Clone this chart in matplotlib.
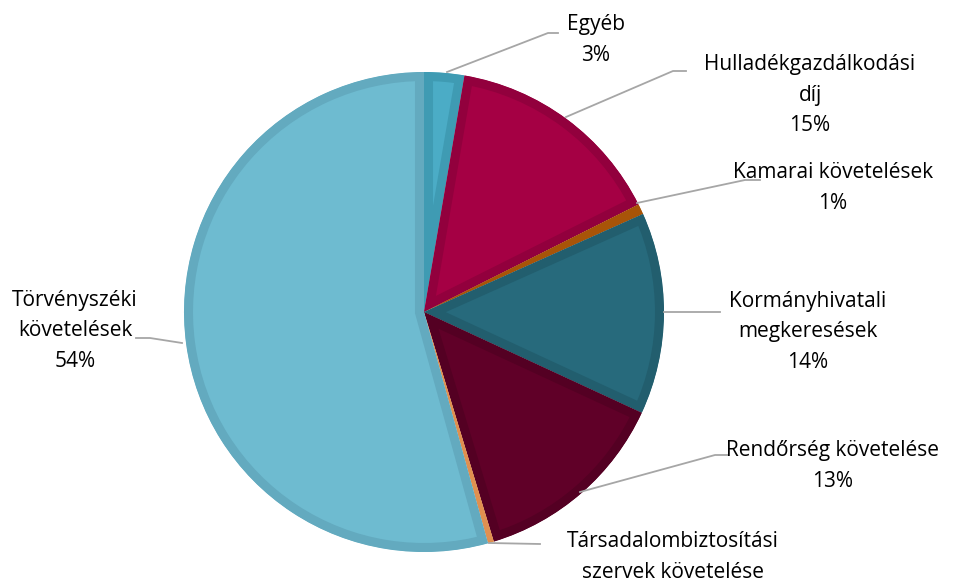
import matplotlib.pyplot as plt
from matplotlib.patches import Wedge

categories = ['Egyéb', 'Hulladékgazdálkodási\ndíj', 'Kamarai követelések',
              'Kormányhivatali\nmegkeresések', 'Rendőrség követelése',
              'Társadalombiztosítási\nszervek követelése', 'Törvényszéki\nkövetelések']
values = [2.7, 14.9, 0.7, 13.6, 13.4, 0.4, 54.3]
pct_labels = ['3%', '15%', '1%', '14%', '13%', '0%', '54%']
fill_colors = ['#4BACC6', '#A50044', '#C0600A', '#276A7C', '#600028', '#F0A060', '#6EBBD0']
edge_colors = ['#3F9BB3', '#92003D', '#A85408', '#225E6E', '#540023', '#E09050', '#63AABF']

H = 579
plt.rcParams['font.family'] = ['Open Sans', 'DejaVu Sans']
fig = plt.figure(figsize=(9.65, 5.79), dpi=100)
ax = fig.add_axes([0, 0, 1, 1])

cx, cy, r = 424, H - 312, 240
wedges, _ = ax.pie(values, startangle=90, counterclock=False,
                   center=(cx, cy), radius=r, colors=fill_colors, frame=True)
ax.set_xlim(0, 965)
ax.set_ylim(0, H)
ax.set_aspect('equal')
ax.axis('off')
for w, ec in zip(wedges, edge_colors):
    w.set_edgecolor(ec)
    w.set_linewidth(13)
    clip = Wedge((cx, cy), r, w.theta1, w.theta2, transform=ax.transData)
    w.set_clip_path(clip)
    w.set_clip_on(True)

# label text positions (image pixel coords) and leader lines
label_pos = [(596, 40), (810, 95), (833, 188), (808, 332), (833, 466), (673, 572), (75, 331)]
leaders = [[(447, 72), (548, 33), (558, 33)],
           [(566, 117), (673, 71), (686, 71)],
           [(637, 203), (745, 180), (760, 180)],
           [(664, 312), (720, 312)],
           [(580, 492), (715, 455), (728, 455)],
           [(489, 543), (540, 544)],
           [(182, 343), (150, 338), (136, 338)]]

for cat, pct, (x, y), pts in zip(categories, pct_labels, label_pos, leaders):
    ax.text(x, H - y, cat + '\n' + pct, ha='center', va='center',
            fontsize=15, linespacing=1.6, color='#000000')
    ax.plot([p[0] for p in pts], [H - p[1] for p in pts], color='#A6A6A6', lw=1.3)

fig.savefig('out.png', dpi=100)
